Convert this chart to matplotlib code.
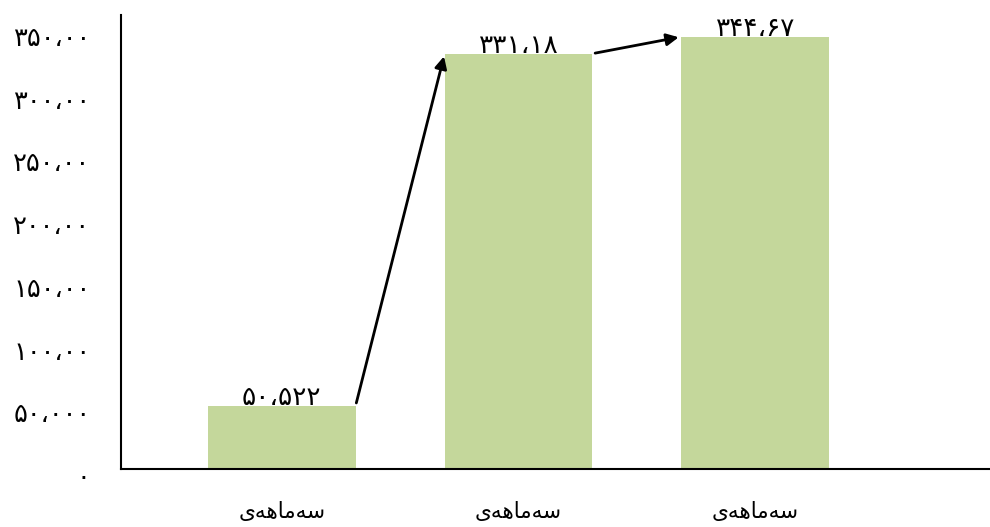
import matplotlib
matplotlib.use("Agg")
import matplotlib.pyplot as plt
from matplotlib.transforms import ScaledTranslation

# ---- data ----
categories = ["\ufbfc\ufeea\ufeeb\ufe8e\ufee3\ufeea\ufeb3"] * 3  # سەماهەی (visual order, shaped)
values = [50.522, 331.18, 344.67]
value_labels = ["۵۰،۵۲۲", "۳۳۱،۱۸", "۳۴۴،۶۷"]
y_ticks = [0, 50, 100, 150, 200, 250, 300, 350]
y_tick_labels = ["۰", "۵۰،۰۰۰", "۱۰۰،۰۰", "۱۵۰،۰۰", "۲۰۰،۰۰", "۲۵۰،۰۰", "۳۰۰،۰۰", "۳۵۰،۰۰"]

bar_color = "#C4D79B"
W, H = 990, 527
fig = plt.figure(figsize=(W / 100, H / 100), dpi=100)
ax = fig.add_axes([121 / W, (H - 469) / H, (989 - 121) / W, (469 - 15) / H])

x = list(range(len(values)))
width = 0.624
ax.bar(x, values, width=width, color=bar_color, zorder=2)

ax.set_xlim(-0.679, 2.987)
ax.set_ylim(0, 362)

ax.set_yticks(y_ticks)
ax.set_yticklabels(y_tick_labels, fontsize=18.5)
ax.set_xticks(x)
ax.set_xticklabels(categories, fontsize=15.5)
ax.tick_params(axis="y", length=0, pad=22)
ax.tick_params(axis="x", length=0, pad=24)
shift = ScaledTranslation(0, -6 / 100, fig.dpi_scale_trans)
for lab in ax.get_yticklabels():
    lab.set_transform(lab.get_transform() + shift)

for s in ["top", "right"]:
    ax.spines[s].set_visible(False)
for s in ["left", "bottom"]:
    ax.spines[s].set_linewidth(1.5)
    ax.spines[s].set_color("black")

# value labels
for xi, v, lab in zip(x, values, value_labels):
    ax.annotate(lab, (xi, v), xytext=(0, -4), textcoords="offset points",
                ha="center", va="bottom", fontsize=19, zorder=3)

# arrows between consecutive bars
for i in range(len(values) - 1):
    ax.annotate("", xy=(x[i + 1] - width / 2, values[i + 1]),
                xytext=(x[i] + width / 2, values[i]),
                arrowprops=dict(arrowstyle="-|>", color="black", lw=2,
                                mutation_scale=18, shrinkA=2, shrinkB=2),
                zorder=4)

fig.savefig("out.png", dpi=100)
